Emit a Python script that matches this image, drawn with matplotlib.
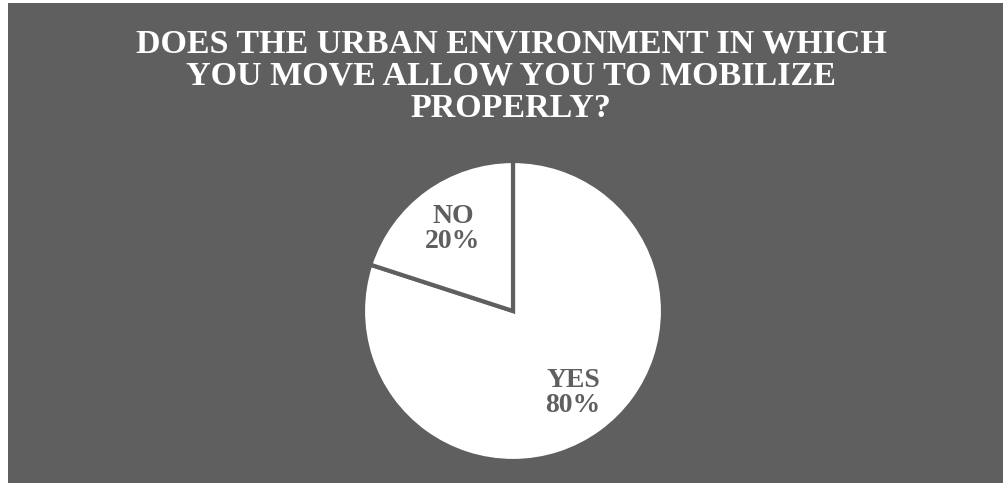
import matplotlib
matplotlib.use("Agg")
import matplotlib.pyplot as plt

# data
labels = ["YES", "NO"]
values = [80, 20]
title = "DOES THE URBAN ENVIRONMENT IN WHICH\nYOU MOVE ALLOW YOU TO MOBILIZE\nPROPERLY?"

bg = "#5f5f5f"

fig = plt.figure(figsize=(10.04, 4.83), dpi=100)
# gray panel with thin white margin on the left/top
panel = fig.add_axes([8/1004, 0, 996/1004, 480/483])
panel.set_facecolor(bg)
panel.set_xticks([]); panel.set_yticks([])
for s in panel.spines.values():
    s.set_visible(False)

# pie axes: centre (513, 311), radius ~149 px
r = 150
ax = fig.add_axes([(513-r)/1004, (483-311-r)/483, 2*r/1004, 2*r/483])
ax.set_facecolor("none")
wedges, texts = ax.pie(values, startangle=90, counterclock=False,
                       colors=["white", "white"],
                       wedgeprops=dict(edgecolor=bg, linewidth=3),
                       radius=1.0)
ax.set_xlim(-1, 1); ax.set_ylim(-1, 1)
ax.set_aspect("auto")

lbl = [f"{l}\n{v}%" for l, v in zip(labels, values)]
fig.text(573/1004, 1-393/483, lbl[0], ha="center", va="center", color=bg,
         fontsize=20, fontweight="bold", family="Liberation Serif", linespacing=1.0)
fig.text(453/1004, 1-229/483, lbl[1], ha="center", va="center", color=bg,
         fontsize=20, fontweight="bold", family="Liberation Serif", linespacing=1.0)

fig.text(511/1004, 1-76/483, title, ha="center", va="center", color="white",
         fontsize=24.5, fontweight="bold", family="Liberation Serif", linespacing=1.05)

fig.savefig("out.png", dpi=100)
